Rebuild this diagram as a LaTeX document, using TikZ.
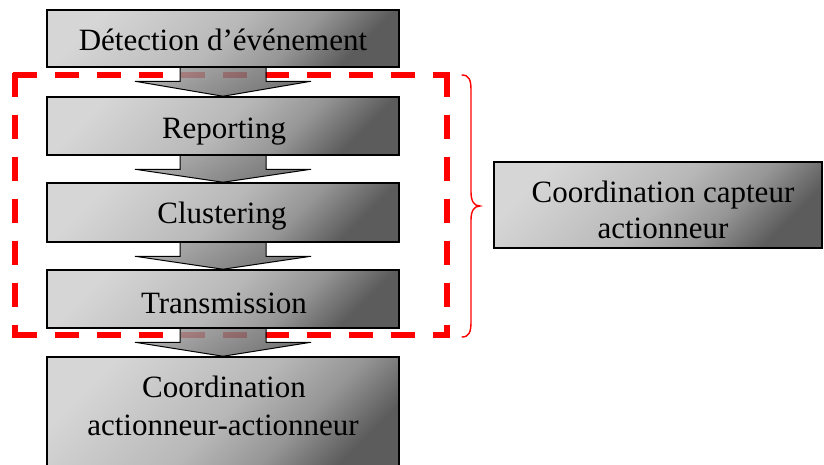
\documentclass[tikz,border=0pt]{standalone}
\usepackage{fontspec}
\setmainfont{Liberation Serif}
\usetikzlibrary{calc}
\definecolor{boxlight}{RGB}{214,214,214}
\definecolor{boxmid}{RGB}{184,184,184}
\definecolor{boxlow}{RGB}{150,150,150}
\definecolor{boxdark}{RGB}{92,92,92}
\definecolor{flowlight}{RGB}{160,160,160}
\definecolor{flowdark}{RGB}{90,90,90}
\definecolor{groupred}{RGB}{255,0,0}
% light to dark, with a long light plateau and a quick fall-off at the end
\pgfdeclareverticalshading{stageshade}{100bp}{color(0bp)=(boxdark); color(25bp)=(boxdark);
  color(37bp)=(boxlow); color(50bp)=(boxmid); color(75bp)=(boxlight); color(100bp)=(boxlight)}
\pgfdeclarelayer{back}
\pgfdeclarelayer{mid}
\pgfsetlayers{back,mid,main}
% block arrow from the bottom of one stage to the top of the next
\newcommand\flowarrow[2]{%
  \path[flow] ($(#1.south)+(-43,0)$) -- ($(#1.south)+(-43,13.5)$)
    -- ($(#1.south)+(-88,13.5)$) -- (#2.north)
    -- ($(#1.south)+(88,13.5)$) -- ($(#1.south)+(43,13.5)$)
    -- ($(#1.south)+(43,0)$);}
\begin{document}
\begin{tikzpicture}[x=1pt,y=-1pt,
  stage/.style={draw=black, line width=1.5pt, shade, shading=stageshade,
    shading angle=45, minimum width=352pt, inner sep=0pt},
  lbl/.style={anchor=base, inner sep=0pt, font=\fontsize{31}{37}\selectfont},
  flow/.style={draw=black, line width=1pt, fill opacity=0.85,
    top color=flowlight, bottom color=flowdark, shading angle=30},
  group/.style={draw=groupred, line width=5.5pt, dash pattern=on 24pt off 18pt},
  brace/.style={draw=groupred, line width=1.4pt, line cap=round}
]
\useasboundingbox (0,0) rectangle (824,464);

% stages
\node[stage, minimum height=57pt] (b1) at (223,38.5) {};
\node[stage, minimum height=58pt] (b2) at (223,126) {};
\node[stage, minimum height=59pt] (b3) at (223,212.5) {};
\node[stage, minimum height=58pt] (b4) at (223,299) {};
\node[stage, minimum height=116pt] (b5) at (223,415) {};
\node[stage, minimum width=328pt, minimum height=86pt] (side) at (658,205) {};

% labels
\node[lbl] (t1) at (223,50) {Détection d’événement};
\node[lbl] (t2) at (224,138) {Reporting};
\node[lbl] (t3) at (222,223) {Clustering};
\node[lbl] (t4) at (224,313) {Transmission};
\node[lbl] (t5a) at (224,397) {Coordination};
\node[lbl] (t5b) at (223,435) {actionneur-actionneur};
\node[lbl] (s1) at (663,202) {Coordination capteur};
\node[lbl] (s2) at (663,238) {actionneur};

% arrows between stages
\begin{pgfonlayer}{mid}
  \flowarrow{b1}{b2}
  \flowarrow{b2}{b3}
  \flowarrow{b3}{b4}
  \flowarrow{b4}{b5}
\end{pgfonlayer}

% dashed group frame, each side starting at its own corner
\begin{pgfonlayer}{back}
  \draw[group] (12.5,75) -- (450,75);
  \draw[group] (12.5,335) -- (450,335);
  \draw[group] (15,72.5) -- (15,337.5);
  \draw[group] (447,72.5) -- (447,337.5);
\end{pgfonlayer}

% brace pointing to the side box
\draw[brace] (462,75) .. controls (469,75) and (471,80) .. (471,90)
  -- (471,192) .. controls (471,201) and (474,206) .. (480,206)
  .. controls (474,206) and (471,211) .. (471,220)
  -- (471,322) .. controls (471,332) and (469,337) .. (462,337);
\end{tikzpicture}
\end{document}
